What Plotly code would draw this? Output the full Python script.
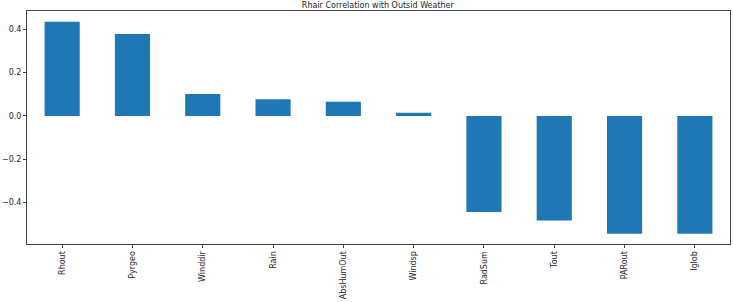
import plotly.graph_objects as go

categories = ["Rhout", "Pyrgeo", "Winddir", "Rain", "AbsHumOut", "Windsp", "RadSum", "Tout", "PARout", "Iglob"]
values = [0.435, 0.378, 0.101, 0.077, 0.065, 0.014, -0.444, -0.483, -0.545, -0.545]
ytick_vals = [-0.4, -0.2, 0.0, 0.2, 0.4]
ytick_text = ["\u22120.4", "\u22120.2", "0.0", "0.2", "0.4"]
title = "Rhair Correlation with Outsid Weather"

xpos = list(range(len(categories)))

fig = go.Figure(go.Bar(x=xpos, y=values, width=0.5, marker=dict(color="#1f77b4", line=dict(width=0))))

font = dict(family="DejaVu Sans", size=8, color="#262626")
fig.update_layout(
    width=733, height=302,
    margin=dict(l=25, r=2.3, t=11, b=57.7),
    paper_bgcolor="white", plot_bgcolor="white",
    showlegend=False,
    font=font,
    title=dict(text=title, x=(25 + 730.7) / 2 / 733, xanchor="center", y=1 - 5.5 / 302, yanchor="middle",
               font=dict(family="DejaVu Sans", size=8, color="#262626")),
    xaxis=dict(range=[-0.5, 9.5], tickvals=xpos, ticktext=categories, tickangle=-90,
               showline=True, mirror=True, linecolor="#444", linewidth=1,
               ticks="outside", ticklen=3, tickcolor="#444", showgrid=False, zeroline=False,
               tickfont=font),
    yaxis=dict(range=[-0.592, 0.4846], tickvals=ytick_vals, ticktext=ytick_text,
               showline=True, mirror=True, linecolor="#444", linewidth=1,
               ticks="outside", ticklen=3, tickcolor="#444", showgrid=False, zeroline=False,
               tickfont=font),
)

fig.write_html("out.html")
